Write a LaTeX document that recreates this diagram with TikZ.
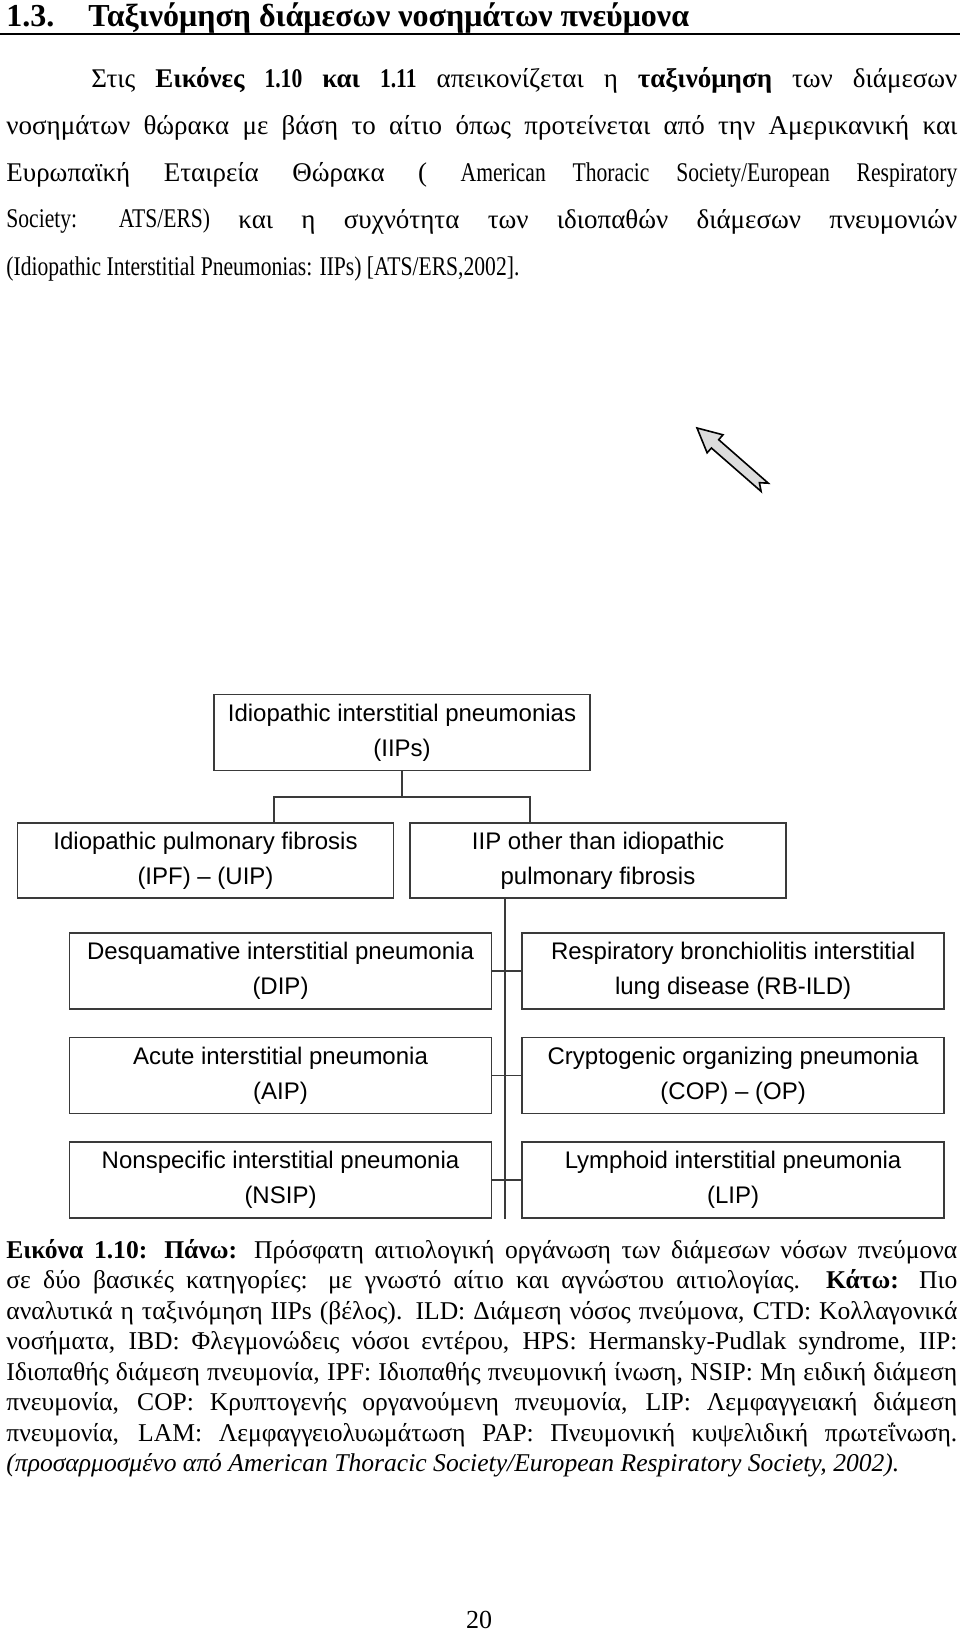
\documentclass[tikz,border=0pt]{standalone}
\usepackage{fontspec}
\setmainfont{Liberation Serif}
\setsansfont{Liberation Sans}
\newfontfamily\latfont{Liberation Serif}[FakeStretch=0.8]
\newcommand\latn[1]{{\latfont #1}}
\usepackage{tikz}
\usetikzlibrary{positioning}
\definecolor{boxline}{HTML}{3A3A3A}
\definecolor{arrowfill}{HTML}{DCDCDC}

\begin{document}
\begin{tikzpicture}[
  x=0.5pt, y=-0.5pt,
  box/.style={draw=boxline, line width=0.8pt, align=center, inner sep=0pt,
    minimum height=38pt, font=\sffamily\fontsize{12}{17.5}\selectfont},
  wide/.style={box, minimum width=188pt},
  cell/.style={box, minimum width=211pt},
  link/.style={draw=boxline, line width=0.8pt},
  bodytext/.style={anchor=base west, inner sep=0pt, text width=475.5pt, align=justify,
    font=\fontsize{13.5}{23.5}\selectfont},
  captext/.style={bodytext, font=\fontsize{12.8}{15.25}\selectfont},
  heading/.style={anchor=base west, inner sep=0pt, font=\bfseries\fontsize{16}{18}\selectfont},
  blockarrow/.style={draw=black, line width=0.8pt, fill=arrowfill, line join=miter}
]
  \useasboundingbox (0,0) rectangle (960,1633);

  % section heading
  \node[heading] (secnum) at (6,26) {1.3.};
  \node[heading] (sectitle) at (88,26) {Ταξινόμηση διάμεσων νοσημάτων πνεύμονα};
  \draw[line width=1pt] (0,34) -- (960,34);

  % text
  \node[bodytext] (intro) at (6,87) {\hspace*{42.5pt}Στις \textbf{Εικόνες \latn{1.10} και \latn{1.11}} απεικονίζεται η \textbf{ταξινόμηση} των διάμεσων\linebreak
    νοσημάτων θώρακα με βάση το αίτιο όπως προτείνεται από την Αμερικανική και\linebreak
    Ευρωπαϊκή Εταιρεία Θώρακα ( \latn{American Thoracic Society/European Respiratory}\linebreak
    \latn{Society: ATS/ERS)} και η συχνότητα των ιδιοπαθών διάμεσων πνευμονιών\linebreak
    \latn{(Idiopathic Interstitial Pneumonias: IIPs) [ATS/ERS,2002].}};

  % the arrow
  \draw[blockarrow] (697,428) -- (707.1,452.8) -- (711.4,448.0) -- (761.1,491.4)
    -- (759.4,482.7) -- (768.3,483.2) -- (718.7,439.7) -- (723.0,434.8) -- cycle;

  % classification
  \node[wide] (iips) at (402,732.5) {Idiopathic interstitial pneumonias\\(IIPs)};
  \node[wide, minimum height=37.5pt] (ipf) at (205.5,860.5) {Idiopathic pulmonary fibrosis\\(IPF) – (UIP)};
  \node[wide, minimum height=37.5pt] (other) at (598,860.5) {IIP other than idiopathic\\pulmonary fibrosis};

  \node[cell] (dip) at (280.5,971) {Desquamative interstitial pneumonia\\(DIP)};
  \node[cell, below=13.5pt of dip] (aip) {Acute interstitial pneumonia\\(AIP)};
  \node[cell, below=13.5pt of aip] (nsip) {Nonspecific interstitial pneumonia\\(NSIP)};
  \node[cell, right=14.5pt of dip] (rbild) {Respiratory bronchiolitis interstitial\\lung disease (RB-ILD)};
  \node[cell, right=14.5pt of aip] (cop) {Cryptogenic organizing pneumonia\\(COP) – (OP)};
  \node[cell, right=14.5pt of nsip] (lip) {Lymphoid interstitial pneumonia\\(LIP)};

  \coordinate (forkl) at (274,797);
  \coordinate (forkr) at (530,797);
  \coordinate (trunk) at (505,898);
  \draw[link] (iips.south) -- (iips.south |- forkl);
  \draw[link] (forkl |- ipf.north) -- (forkl) -- (forkr) -- (forkr |- other.north);
  \draw[link] (trunk |- other.south) -- (trunk |- nsip.south);
  \foreach \l/\r in {dip/rbild, aip/cop, nsip/lip}
    \draw[link] (\l.east) -- (\r.west);

  % caption
  \node[captext] (caption) at (6,1258) {\textbf{Εικόνα 1.10: Πάνω:} Πρόσφατη αιτιολογική οργάνωση των διάμεσων νόσων πνεύμονα\linebreak
    σε δύο βασικές κατηγορίες: με γνωστό αίτιο και αγνώστου αιτιολογίας. \textbf{Κάτω:} Πιο\linebreak
    αναλυτικά η ταξινόμηση IIPs (βέλος). ILD: Διάμεση νόσος πνεύμονα, CTD: Κολλαγονικά\linebreak
    νοσήματα, IBD: Φλεγμονώδεις νόσοι εντέρου, HPS: Hermansky-Pudlak syndrome, IIP:\linebreak
    Ιδιοπαθής διάμεση πνευμονία, IPF: Ιδιοπαθής πνευμονική ίνωση, NSIP: Μη ειδική διάμεση\linebreak
    πνευμονία, COP: Κρυπτογενής οργανούμενη πνευμονία, LIP: Λεμφαγγειακή διάμεση\linebreak
    πνευμονία, LAM: Λεμφαγγειολυωμάτωση PAP: Πνευμονική κυψελιδική πρωτεΐνωση.\linebreak
    \textit{(προσαρμοσμένο από American Thoracic Society/European Respiratory Society, 2002).}};

  % page number
  \node[anchor=base, inner sep=0pt, font=\fontsize{13}{15}\selectfont] (pagenum) at (479,1628) {20};
\end{tikzpicture}
\end{document}
